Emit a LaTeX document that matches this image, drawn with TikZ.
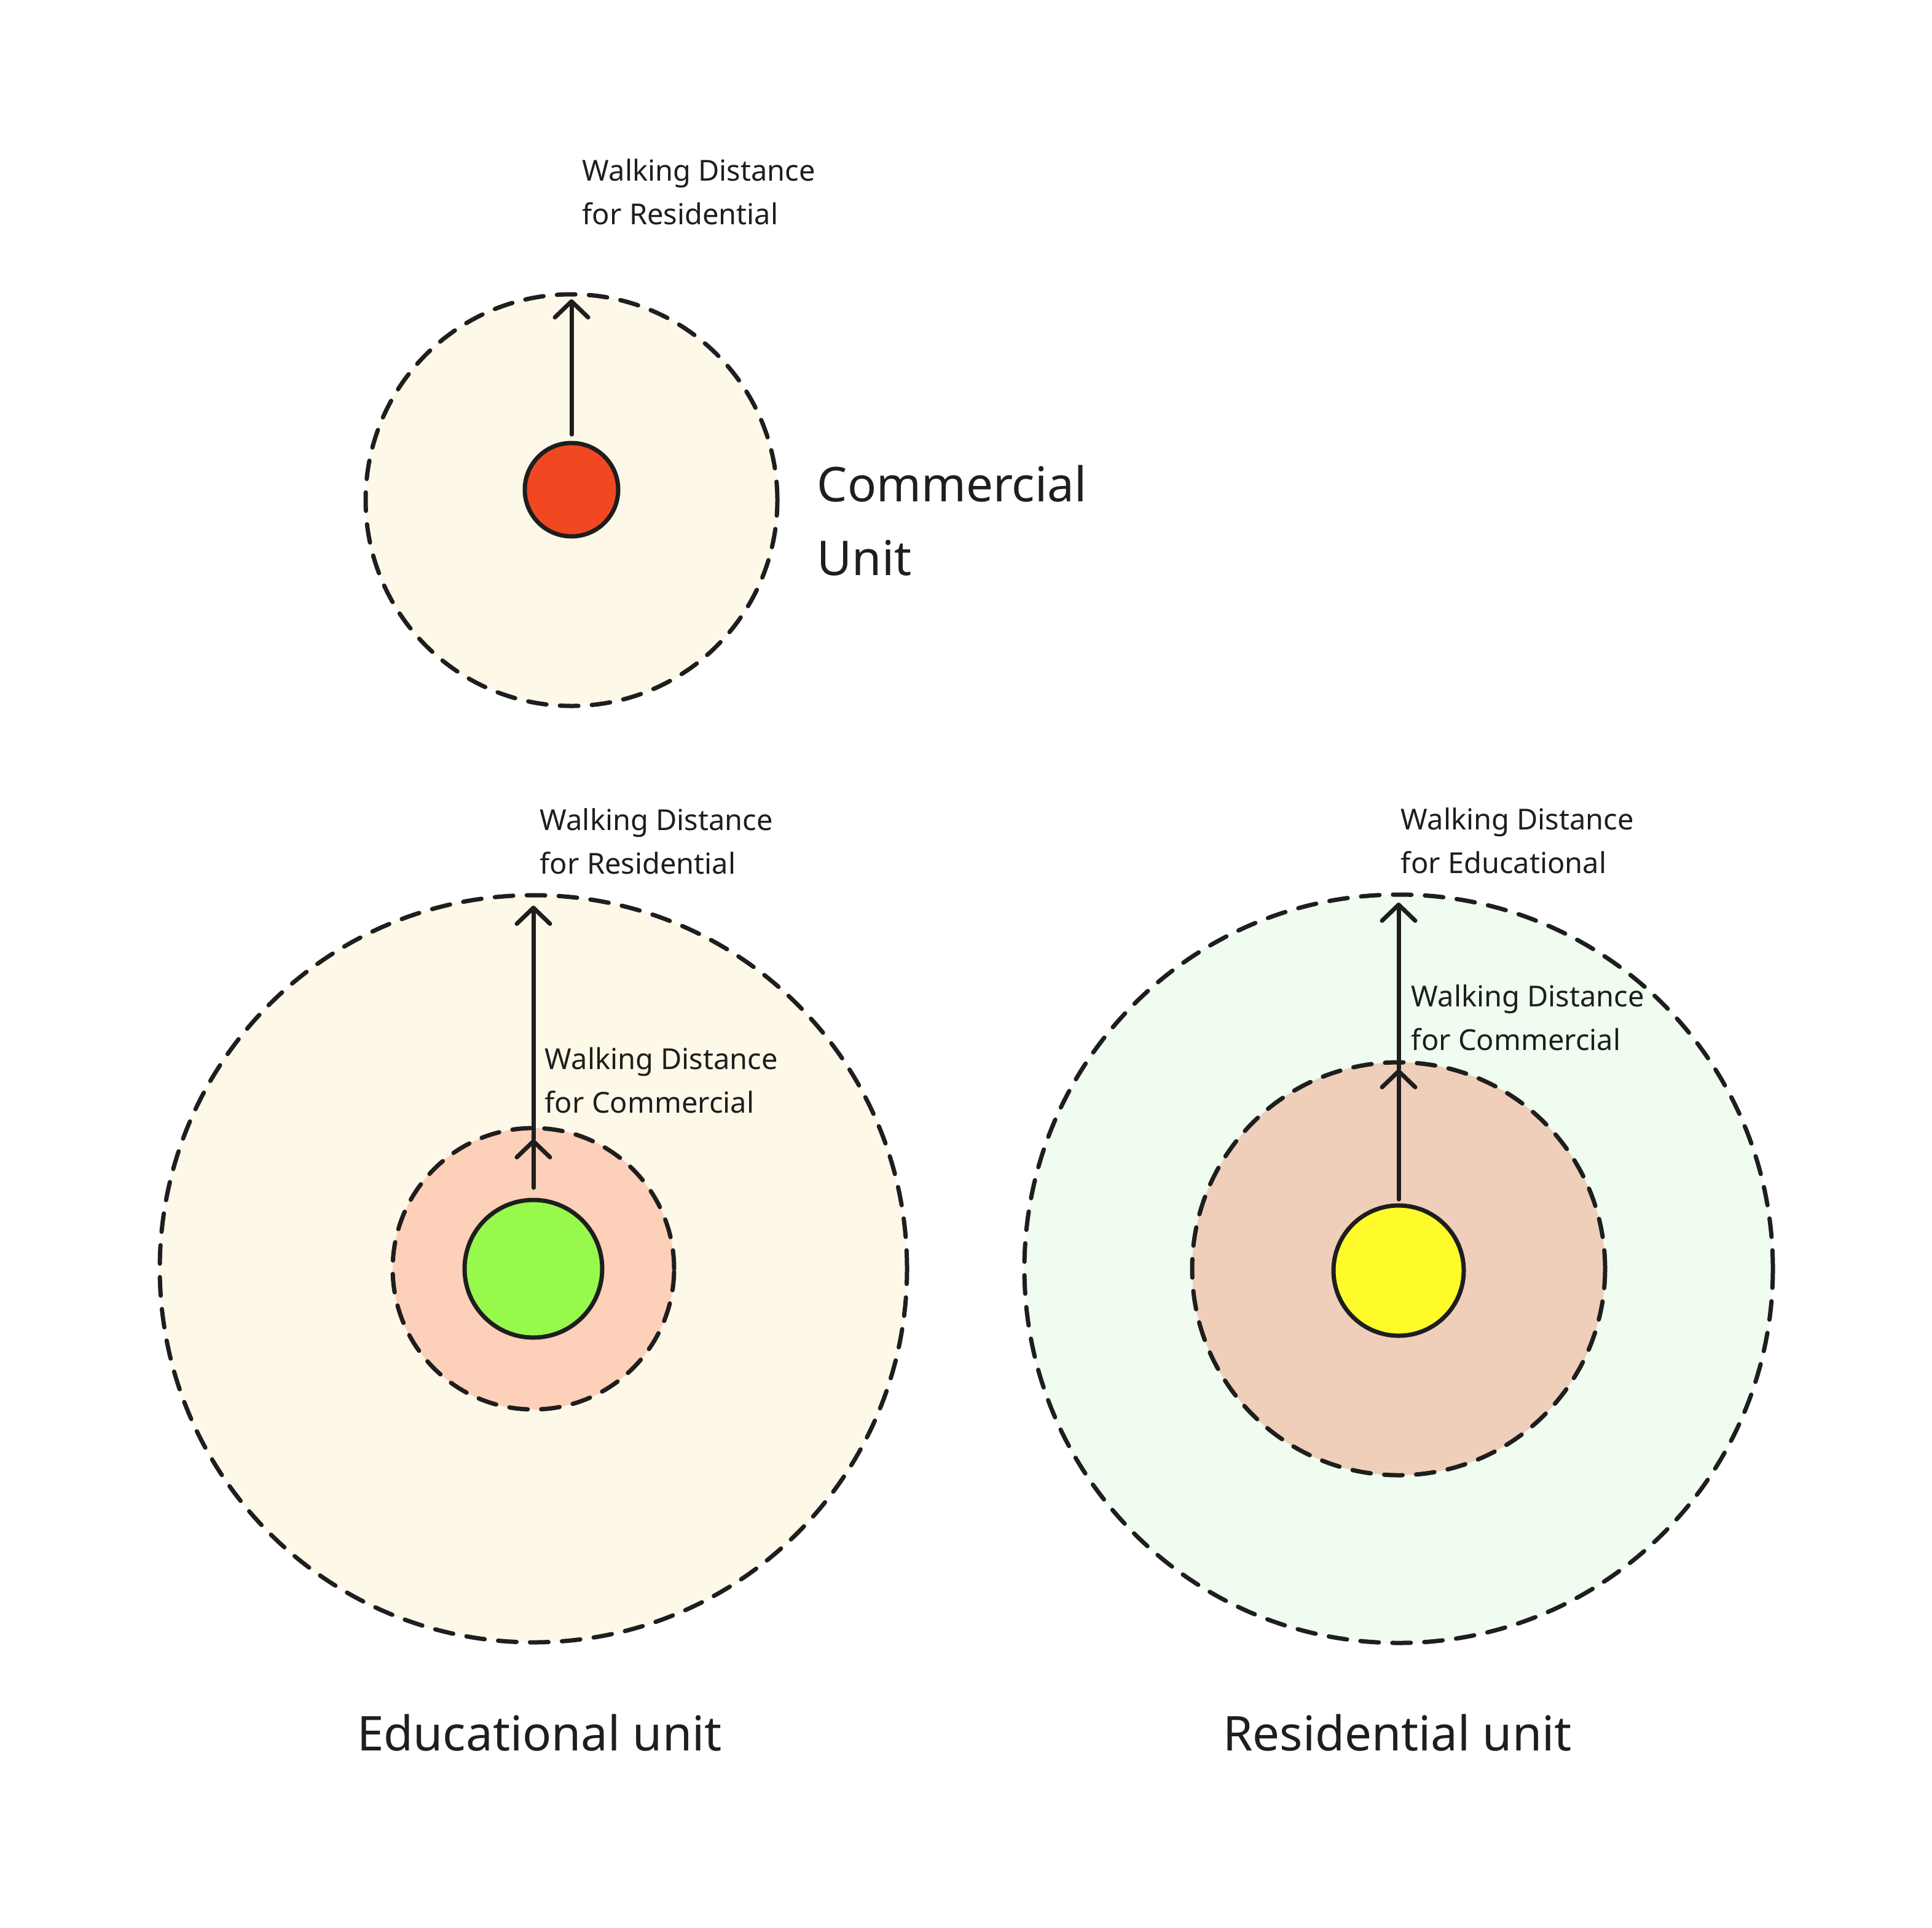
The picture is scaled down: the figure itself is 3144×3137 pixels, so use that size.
\documentclass[tikz,border=0pt]{standalone}
\usepackage{fontspec}
\setmainfont{Noto Sans}
\usetikzlibrary{arrows.meta}
\definecolor{ink}{HTML}{1E1E1E}
\definecolor{cream}{HTML}{FEF8E8}
\definecolor{salmon}{HTML}{FCD0B9}
\definecolor{mint}{HTML}{EFFCEF}
\definecolor{tan}{HTML}{EFCFBA}
\definecolor{redunit}{HTML}{F24822}
\definecolor{greenunit}{HTML}{97F94B}
\definecolor{yellowunit}{HTML}{FFFB2B}
\tikzset{
  zone/.style={circle, draw=ink, line width=1.75pt, dash pattern=on 7.5pt off 5.5pt, line cap=round, outer sep=0pt, inner sep=0pt},
  unit/.style={circle, draw=ink, line width=1.75pt, outer sep=0pt, inner sep=0pt},
  arr/.style={draw=ink, line width=1.75pt, line cap=round, -{Straight Barb[length=6.5pt,width=13.5pt,line cap=round,line join=round]}},
  small/.style={font=\fontsize{11.75}{17.75}\selectfont, text=ink, align=left, anchor=base west, inner sep=0pt},
  big/.style={font=\fontsize{19.5}{29.8}\selectfont, text=ink, align=left, anchor=base west, inner sep=0pt},
  bigc/.style={font=\fontsize{19.5}{29.8}\selectfont, text=ink, anchor=base, inner sep=0pt}
}
\begin{document}
\begin{tikzpicture}[x=0.25pt, y=-0.25pt]
\useasboundingbox[fill=white] (0,0) rectangle (3144,3137);
% Commercial unit
\node[zone, fill=cream, minimum size=167.5pt] (cOut) at (930,814) {};
\node[unit, fill=redunit, minimum size=38pt] (cUnit) at (930,797) {};
\draw[arr] ([yshift=3.5pt]cUnit.north) -- ([yshift=-2pt]cOut.north);
\node[small] (cTxt) at (947,365) {Walking Distance\\for Residential};
\node[big] (cLbl) at (1329,936) {Commercial\\Unit};
% Educational unit
\node[zone, fill=cream, minimum size=304pt] (eOut) at (868,2065) {};
\node[zone, fill=salmon, minimum size=114.5pt] (eIn) at (868,2065) {};
\node[unit, fill=greenunit, minimum size=56pt] (eUnit) at (868,2065) {};
\draw[arr] ([yshift=5pt]eUnit.north) -- ([yshift=-4.5pt]eIn.north);
\draw[arr] ([yshift=-4.5pt]eIn.north) -- ([yshift=-4.25pt]eOut.north);
\node[small] (eTxtR) at (878,1422) {Walking Distance\\for Residential};
\node[small] (eTxtC) at (886,1811) {Walking Distance\\for Commercial};
\node[bigc] (eLbl) at (878,2849) {Educational unit};
% Residential unit
\node[zone, fill=mint, minimum size=304.5pt] (rOut) at (2276,2065) {};
\node[zone, fill=tan, minimum size=168pt] (rIn) at (2276,2065) {};
\node[unit, fill=yellowunit, minimum size=53pt] (rUnit) at (2276,2068) {};
\draw[arr] ([yshift=2.5pt]rUnit.north) -- ([yshift=-2.75pt]rIn.north);
\draw[arr] ([yshift=-2.75pt]rIn.north) -- ([yshift=-3.25pt]rOut.north);
\node[small] (rTxtE) at (2279,1421) {Walking Distance\\for Educational};
\node[small] (rTxtC) at (2296,1709) {Walking Distance\\for Commercial};
\node[bigc] (rLbl) at (2274,2849) {Residential unit};
\end{tikzpicture}
\end{document}
